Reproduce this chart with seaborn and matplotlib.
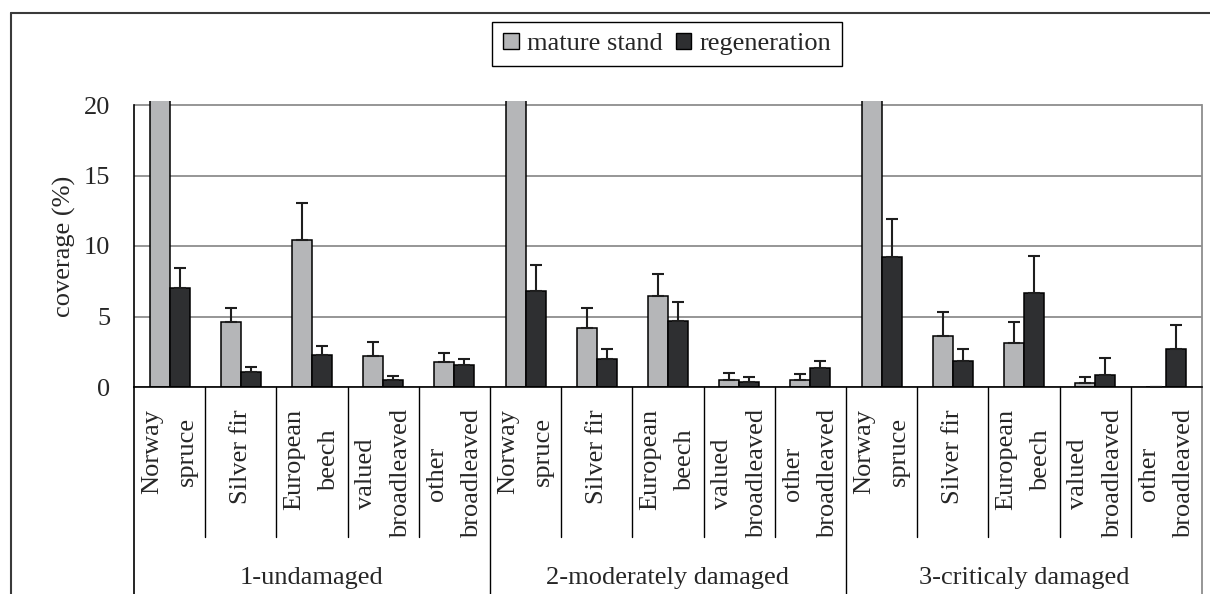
import numpy as np
import pandas as pd
import matplotlib
matplotlib.use("Agg")
import matplotlib.pyplot as plt
from matplotlib.lines import Line2D
import seaborn as sns

# ---- data -------------------------------------------------------------
groups = ["1-undamaged", "2-moderately damaged", "3-criticaly damaged"]
species = ["Norway\nspruce", "Silver fir", "European\nbeech",
           "valued\nbroadleaved", "other\nbroadleaved"]
layers = ["mature stand", "regeneration"]

# mean coverage (%) per damage class, species order as above
mature_mean = [
    [60.0, 4.59, 10.45, 2.17, 1.75],
    [62.0, 4.16, 6.45, 0.50, 0.50],
    [65.0, 3.64, 3.12, 0.31, 0.03],
]
mature_err = [
    [5.0, 1.04, 2.60, 1.04, 0.64],
    [5.0, 1.47, 1.59, 0.52, 0.42],
    [5.0, 1.70, 1.49, 0.42, 0.00],
]
regen_mean = [
    [7.02, 1.04, 2.29, 0.52, 1.56],
    [6.79, 1.99, 4.70, 0.38, 1.35],
    [9.20, 1.87, 6.69, 0.83, 2.72],
]
regen_err = [
    [1.45, 0.40, 0.62, 0.28, 0.43],
    [1.89, 0.73, 1.35, 0.33, 0.52],
    [2.74, 0.85, 2.62, 1.25, 1.68],
]
y_ticks = [0, 5, 10, 15, 20]

# ---- long table for seaborn ------------------------------------------
rows = []
keys = []
for gi, g in enumerate(groups):
    for si, s in enumerate(species):
        key = f"{gi}|{s}"
        keys.append(key)
        rows.append(dict(key=key, layer=layers[0],
                         coverage=mature_mean[gi][si], err=mature_err[gi][si]))
        rows.append(dict(key=key, layer=layers[1],
                         coverage=regen_mean[gi][si], err=regen_err[gi][si]))
df = pd.DataFrame(rows)

FS = 19
sns.set_style("white")
plt.rcParams["font.family"] = ["Liberation Serif", "DejaVu Serif"]
plt.rcParams["font.size"] = FS

W, H = 1210, 594
fig = plt.figure(figsize=(W / 100, H / 100), dpi=100)

# plot area: x from 134 px to 1202 px, value 0 at 387 px, 20 at 105 px
px_per_unit = (387 - 105) / 20
ytop = 20.25
ax_h_px = ytop * px_per_unit
ax = fig.add_axes([134 / W, (H - 387) / H, (1202 - 134) / W, ax_h_px / H])

palette = {"mature stand": "#b5b6b8", "regeneration": "#2e2f31"}
sns.barplot(data=df, x="key", y="coverage", hue="layer", order=keys,
            hue_order=layers, palette=palette, width=0.56, gap=0,
            edgecolor="black", linewidth=1.1, errorbar=None, ax=ax,
            saturation=1)

# upper error bars from the stored errors, placed on each bar
lookup = df.set_index(["key", "layer"])["err"]
for li, layer in enumerate(layers):
    bars = ax.containers[li]
    xs, ys, es = [], [], []
    for k, bar in zip(keys, bars):
        xs.append(bar.get_x() + bar.get_width() / 2)
        ys.append(bar.get_height())
        es.append(lookup[(k, layer)])
    es = np.array(es)
    ax.errorbar(xs, ys, yerr=[np.zeros_like(es), es], fmt="none",
                ecolor="#1e1e1e", elinewidth=1.5, capsize=4.5, capthick=1.5,
                zorder=3)

ax.set_xlim(-0.5, len(keys) - 0.5)
ax.set_ylim(0, ytop)
ax.set_yticks(y_ticks)
ax.set_yticklabels([str(v) for v in y_ticks])
ax.tick_params(axis="y", direction="out", length=7, width=1.2, color="black",
               pad=10, labelsize=FS)
ax.yaxis.grid(True, color="#8e8e8e", linewidth=1.3)
ax.set_axisbelow(True)

ax.set_xticks(range(len(keys)))
ax.set_xticklabels([s for _ in groups for s in species], rotation=90,
                   va="top", ha="center", multialignment="center",
                   linespacing=1.75)
ax.tick_params(axis="x", length=0, pad=16, labelsize=FS)

ax.set_xlabel("")
ax.set_ylabel("coverage (%)", fontsize=FS)
ax.yaxis.set_label_coords((76 - 134) / (1202 - 134), 0.5 * 20 / ytop)

ax.spines["top"].set_visible(False)
ax.spines["left"].set_bounds(0, 20)
ax.spines["left"].set_color("black")
ax.spines["left"].set_linewidth(1.2)
ax.spines["right"].set_bounds(0, 20)
ax.spines["right"].set_color("#8e8e8e")
ax.spines["right"].set_linewidth(1.3)
ax.spines["bottom"].set_color("black")
ax.spines["bottom"].set_linewidth(1.2)

# category / group dividers below the value axis
tr = ax.get_xaxis_transform()
y_cat = -(537 - 387) / ax_h_px
y_grp = -(600 - 387) / ax_h_px
n_sp = len(species)
for i in range(1, len(keys)):
    x = i - 0.5
    ybot = y_grp if i % n_sp == 0 else y_cat
    ax.plot([x, x], [0, ybot], transform=tr, color="black", lw=1.0,
            clip_on=False)
ax.plot([-0.5, -0.5], [0, y_grp], transform=tr, color="black", lw=1.2,
        clip_on=False)
ax.plot([len(keys) - 0.5] * 2, [0, y_grp], transform=tr, color="#8e8e8e",
        lw=1.3, clip_on=False)

y_glab = -(578 - 387) / ax_h_px
for gi, g in enumerate(groups):
    ax.text(gi * n_sp + (n_sp - 1) / 2, y_glab, g, transform=tr,
            ha="center", va="center", fontsize=FS)

sns.move_legend(ax, loc="center", bbox_to_anchor=(667 / W, 1 - 44 / H),
                bbox_transform=fig.transFigure, ncol=2, title=None,
                frameon=True, fancybox=False, edgecolor="black",
                framealpha=1, fontsize=FS, handlelength=0.6,
                handleheight=0.6, handletextpad=0.3, columnspacing=0.5,
                borderpad=0.4, borderaxespad=0)
leg = ax.get_legend()
leg.get_frame().set_linewidth(1.0)
for h in leg.legend_handles:
    h.set_edgecolor("black")
    h.set_linewidth(1.0)

# outer frame around the chart
fig.add_artist(Line2D([11 / W, 1], [1 - 13 / H, 1 - 13 / H],
                      transform=fig.transFigure, color="#3a3a3a", lw=1.5))
fig.add_artist(Line2D([11 / W, 11 / W], [0, 1 - 13 / H],
                      transform=fig.transFigure, color="#3a3a3a", lw=1.5))

fig.savefig("out.png", dpi=100)
